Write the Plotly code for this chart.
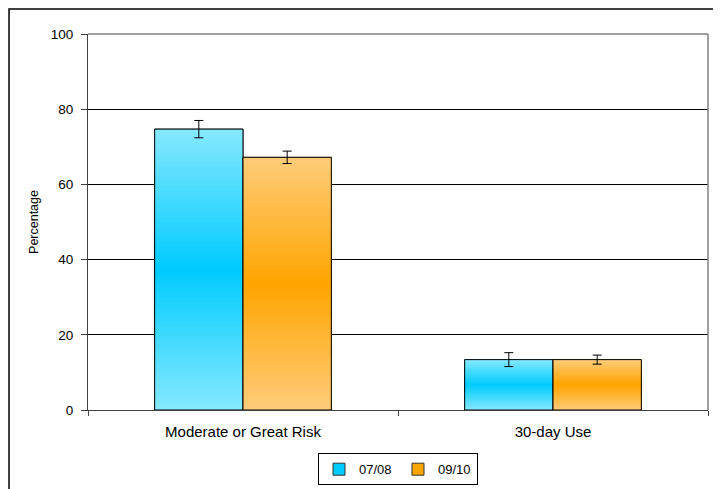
import plotly.graph_objects as go

categories = ["Moderate or Great Risk", "30-day Use"]
series_names = ["07/08", "09/10"]
values_0708 = [74.7, 13.4]
values_0910 = [67.2, 13.4]
err_0708 = [2.3, 1.85]
err_0910 = [1.65, 1.2]
y_ticks = [0, 20, 40, 60, 80, 100]

series = [
    (series_names[0], values_0708, err_0708, (0x86, 0xE8, 0xFF), (0x00, 0xCC, 0xFF), "#00CCFF"),
    (series_names[1], values_0910, err_0910, (0xFF, 0xCC, 0x7A), (0xFF, 0xA5, 0x00), "#FFA500"),
]

N = 60
fig = go.Figure()


def mix(c1, c2, t):
    return "rgb(%d,%d,%d)" % tuple(round(a + (b - a) * t) for a, b in zip(c1, c2))


for idx, (name, vals, errs, light, dark, solid) in enumerate(series):
    grp = "g%d" % idx
    fig.add_trace(go.Bar(
        x=categories, y=vals, name=name, offsetgroup=grp,
        marker=dict(color=solid, line=dict(color="#333333", width=1)),
        hoverinfo="skip", showlegend=True,
    ))
    for k in range(N):
        t = (k + 0.5) / N
        s = 1 - abs(t - 0.5) / 0.5
        col = mix(light, dark, s)
        fig.add_trace(go.Bar(
            x=categories,
            y=[v * (N - k) / N for v in vals],
            base=[v * k / N for v in vals],
            offsetgroup=grp,
            marker=dict(color=col, line=dict(width=0)),
            hoverinfo="skip", showlegend=False,
        ))
    fig.add_trace(go.Bar(
        x=categories, y=vals, offsetgroup=grp,
        marker=dict(color="rgba(0,0,0,0)", line=dict(color="black", width=1)),
        error_y=dict(type="data", array=errs, visible=True, color="black",
                     thickness=1, width=4.5),
        hoverinfo="skip", showlegend=False,
    ))

fig.update_layout(
    width=712, height=485,
    margin=dict(l=80, r=12, t=26, b=83, autoexpand=False),
    paper_bgcolor="white", plot_bgcolor="white",
    barmode="group", bargap=0.43, bargroupgap=0,
    font=dict(family="Liberation Sans, Arial, sans-serif", size=14, color="black"),
    showlegend=True,
    legend=dict(
        orientation="h", x=0.5, xanchor="center", y=-0.115, yanchor="top",
        bordercolor="black", borderwidth=1, font=dict(size=13),
        itemwidth=30, traceorder="normal", entrywidth=34,
        tracegroupgap=0,
    ),
    xaxis=dict(
        type="category", showgrid=False, showline=True, linecolor="#404040",
        linewidth=1, ticks="outside", tickson="boundaries", ticklen=5,
        tickcolor="#404040", tickfont=dict(size=15), zeroline=False,
        automargin=False, ticklabelstandoff=8,
    ),
    yaxis=dict(
        range=[0, 100], tickvals=y_ticks, showgrid=True, gridcolor="black",
        gridwidth=1, showline=True, linecolor="#404040", linewidth=1,
        ticks="outside", ticklen=6, tickcolor="#404040", zeroline=False,
        tickfont=dict(size=13.5), automargin=False, ticklabelstandoff=5,
        title=dict(text="Percentage", font=dict(size=12.5), standoff=9),
    ),
    shapes=[
        dict(type="line", xref="paper", yref="paper", x0=0, x1=1, y0=1, y1=1,
             line=dict(color="#808080", width=1.5)),
        dict(type="line", xref="paper", yref="paper", x0=1, x1=1, y0=0, y1=1,
             line=dict(color="#808080", width=1.5)),
        dict(type="rect", xref="paper", yref="paper", x0=-0.1274, x1=1.0161,
             y0=-0.218, y1=1.0665, line=dict(color="black", width=1.5),
             fillcolor="rgba(0,0,0,0)", layer="above"),
    ],
)

fig.write_html("out.html")
